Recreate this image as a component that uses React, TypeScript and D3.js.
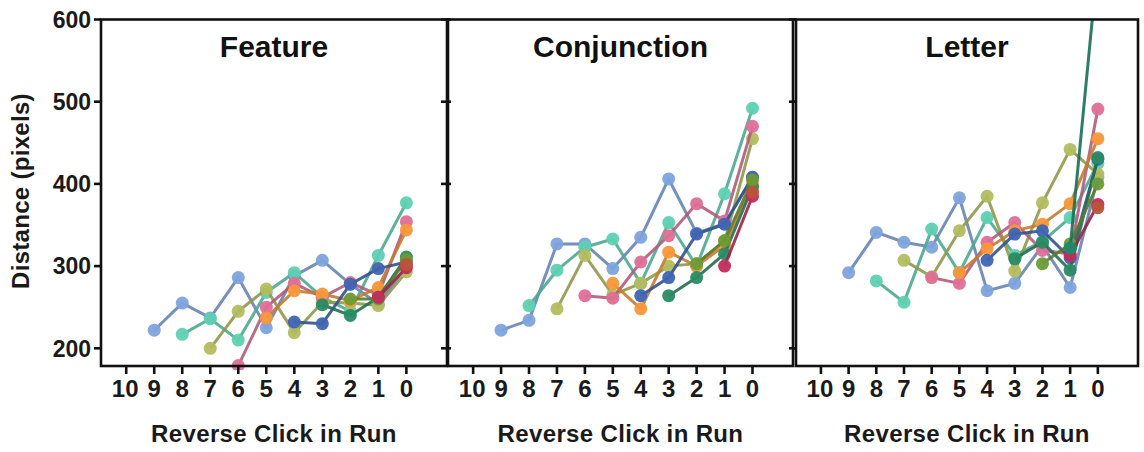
import React from 'react';
import * as d3 from 'd3';

// ---------- data ----------
const clicks = [9, 8, 7, 6, 5, 4, 3, 2, 1, 0];
const xTickValues = [10, 9, 8, 7, 6, 5, 4, 3, 2, 1, 0];
const yTickValues = [200, 300, 400, 500, 600];
const panelTitles = ['Feature', 'Conjunction', 'Letter'];
const xAxisLabel = 'Reverse Click in Run';
const yAxisLabel = 'Distance (pixels)';

const seriesColors = [
  '#7ea4dc', // light blue
  '#5ed0b2', // mint
  '#b3bc5f', // olive
  '#df6f97', // pink
  '#f8973a', // orange
  '#3f64b2', // dark blue
  '#2a8a64', // dark green
  '#6b9b36', // olive green
  '#c22d5b', // crimson
  '#bb5438', // red-brown
  '#1f8a6c', // teal green
];

type V = number | null;
const _ = null;

// values listed for clicks 9..0
const featureSeries: V[][] = [
  [222, 255, 237, 286, 225, 288, 307, 278, 254, 300],
  [_, 217, 236, 210, 268, 292, 262, 245, 313, 377],
  [_, _, 200, 245, 272, 219, 256, 255, 252, 293],
  [_, _, _, 179, 250, 279, 262, 280, 265, 354],
  [_, _, _, _, 237, 270, 266, 258, 274, 344],
  [_, _, _, _, _, 232, 230, 278, 297, 305],
  [_, _, _, _, _, _, 253, 240, 262, 311],
  [_, _, _, _, _, _, _, 260, 260, 308],
  [_, _, _, _, _, _, _, _, 262, 298],
  [_, _, _, _, _, _, _, _, _, 302],
];

const conjunctionSeries: V[][] = [
  [222, 234, 327, 327, 297, 335, 406, 340, 352, 408],
  [_, 252, 295, 323, 333, 279, 353, 300, 388, 492],
  [_, _, 248, 313, 265, 279, 300, 303, 330, 455],
  [_, _, _, 264, 261, 305, 337, 376, 355, 470],
  [_, _, _, _, 279, 248, 317, 300, 325, 400],
  [_, _, _, _, _, 264, 286, 339, 351, 408],
  [_, _, _, _, _, _, 264, 286, 315, 396],
  [_, _, _, _, _, _, _, 303, 331, 405],
  [_, _, _, _, _, _, _, _, 300, 385],
  [_, _, _, _, _, _, _, _, _, 390],
];

const letterSeries: V[][] = [
  [292, 341, 329, 323, 383, 270, 279, 325, 274, 408],
  [_, 282, 256, 345, 292, 359, 313, 330, 359, 425],
  [_, _, 307, 287, 343, 385, 294, 377, 442, 412],
  [_, _, _, 286, 279, 329, 353, 319, 315, 491],
  [_, _, _, _, 292, 321, 343, 351, 376, 455],
  [_, _, _, _, _, 307, 339, 343, 310, 430],
  [_, _, _, _, _, _, 309, 329, 295, 432],
  [_, _, _, _, _, _, _, 303, 327, 400],
  [_, _, _, _, _, _, _, _, 313, 375],
  [_, _, _, _, _, _, _, _, _, 371],
  [_, _, _, _, _, _, _, _, 322, 670],
];

const panelData = [featureSeries, conjunctionSeries, letterSeries];

// ---------- layout ----------
const W = 1144;
const H = 452;
const panelLefts = [101, 448, 796];
const panelRights = [447, 793, 1138];
const top = 19.5;
const bottom = 366;
const FONT = '"Liberation Sans", Arial, Helvetica, sans-serif';

const y = d3.scaleLinear().domain([200, 600]).range([348.3, top]);

function Panel({ idx }: { idx: number }) {
  const left = panelLefts[idx];
  const right = panelRights[idx];
  const x = d3.scaleLinear().domain([10.9, -1.45]).range([left, right]);
  const series = panelData[idx];
  const line = d3
    .line<[number, number]>()
    .x((d) => x(d[0]))
    .y((d) => y(d[1]));
  const clipId = `clip-${idx}`;
  const cx = (left + right) / 2;
  return (
    <g>
      <defs>
        <clipPath id={clipId}>
          <rect x={left} y={top} width={right - left} height={bottom - top + 4} />
        </clipPath>
      </defs>
      <g clipPath={`url(#${clipId})`}>
        {series.map((vals, si) => {
          const pts: [number, number][] = [];
          vals.forEach((v, i) => {
            if (v !== null) pts.push([clicks[i], v]);
          });
          const c = seriesColors[si];
          const lc = d3.color(c)!.darker(0.6).formatHex();
          return (
            <g key={si}>
              <path d={line(pts) || ''} fill="none" stroke={lc} strokeWidth={3} strokeOpacity={0.9} />
              {pts.map((p, pi) => (
                <circle key={pi} cx={x(p[0])} cy={y(p[1])} r={6.5} fill={c} fillOpacity={0.95} />
              ))}
            </g>
          );
        })}
      </g>
      {/* frame */}
      <rect x={left} y={top} width={right - left} height={bottom - top} fill="none" stroke="#111" strokeWidth={2.6} />
      {/* y ticks */}
      {yTickValues.map((t) => (
        <line key={t} x1={left - 7} x2={left} y1={y(t)} y2={y(t)} stroke="#111" strokeWidth={2.6} />
      ))}
      {idx < 2 &&
        yTickValues.map((t) => (
          <line key={'r' + t} x1={right} x2={right + 4} y1={y(t)} y2={y(t)} stroke="#111" strokeWidth={2.6} />
        ))}
      {idx === 0 &&
        yTickValues.map((t) => (
          <text
            key={'l' + t}
            x={91}
            y={y(t)}
            dy="0.36em"
            textAnchor="end"
            fontFamily={FONT}
            fontWeight="bold"
            fontSize={23}
            fill="#1a1a1a"
          >
            {t}
          </text>
        ))}
      {/* x ticks */}
      {xTickValues.map((t) => (
        <g key={t}>
          <line x1={x(t)} x2={x(t)} y1={bottom} y2={bottom + 8} stroke="#111" strokeWidth={2.6} />
          <text
            x={x(t) + (t === 10 ? -1 : 0)}
            y={397}
            textAnchor="middle"
            fontFamily={FONT}
            fontWeight="bold"
            fontSize={24}
            fill="#1a1a1a"
          >
            {t}
          </text>
        </g>
      ))}
      <text
        x={cx}
        y={442}
        textAnchor="middle"
        fontFamily={FONT}
        fontWeight="bold"
        fontSize={24}
        letterSpacing={0.35}
        fill="#1a1a1a"
      >
        {xAxisLabel}
      </text>
      <text x={cx} y={57} textAnchor="middle" fontFamily={FONT} fontWeight="bold" fontSize={30} fill="#111">
        {panelTitles[idx]}
      </text>
    </g>
  );
}

export default function App() {
  return (
    <svg
      width={W}
      height={H}
      viewBox={`0 0 ${W} ${H}`}
      style={{ position: 'absolute', left: 0, top: 0, background: '#fff' }}
    >
      <rect x={0} y={0} width={W} height={H} fill="#fff" />
      {[0, 1, 2].map((i) => (
        <Panel key={i} idx={i} />
      ))}
      <text
        transform="translate(29,191) rotate(-90)"
        textAnchor="middle"
        fontFamily={FONT}
        fontWeight="bold"
        fontSize={24}
        letterSpacing={0.3}
        fill="#1a1a1a"
      >
        {yAxisLabel}
      </text>
    </svg>
  );
}
